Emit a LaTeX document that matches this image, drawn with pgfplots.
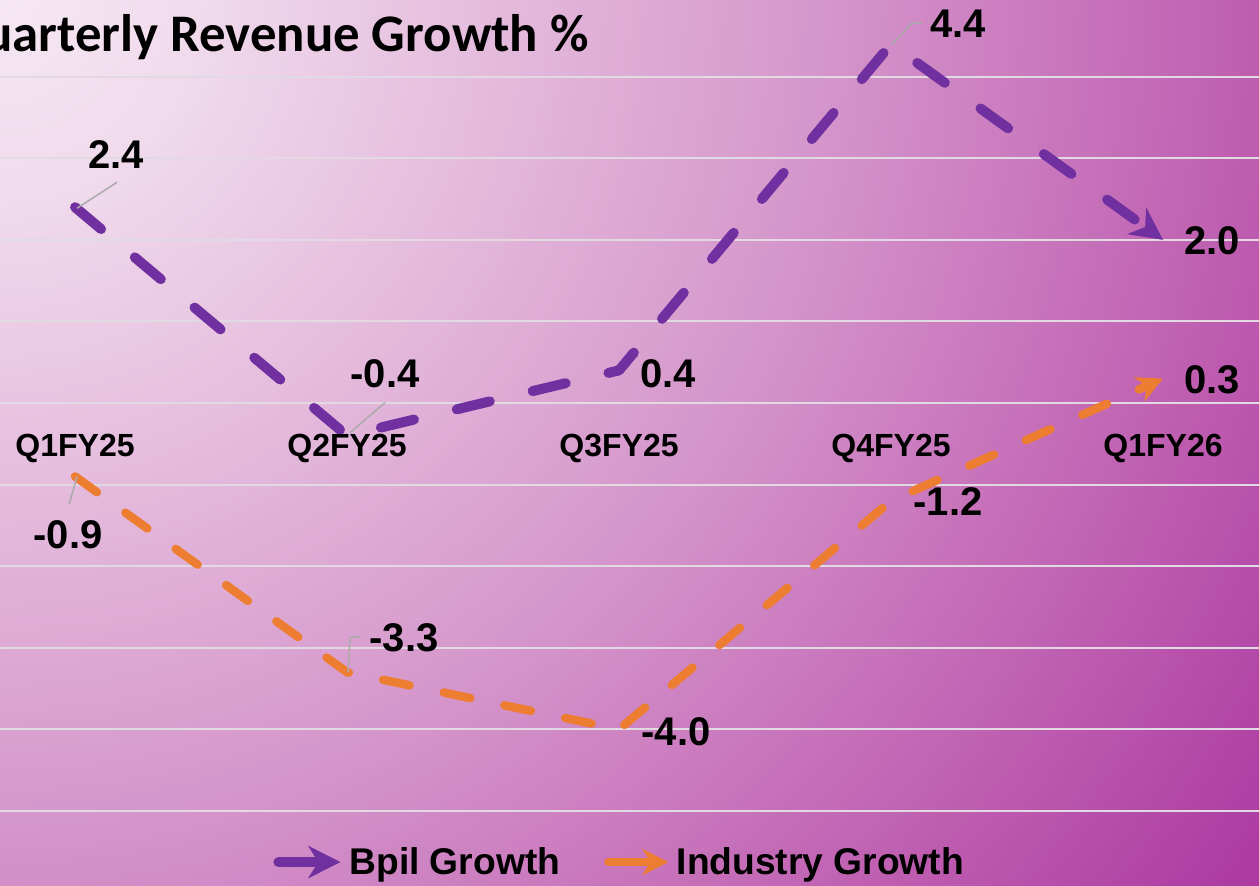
\documentclass[border=0pt]{standalone}
\usepackage{fontspec}
\setmainfont{Liberation Sans}
\newfontfamily\titlefont{Carlito}
\usepackage{pgfplots}
\pgfplotsset{compat=1.18}
\usetikzlibrary{arrows.meta}

\definecolor{bpil}{RGB}{112,48,160}
\definecolor{indus}{RGB}{237,125,49}
\definecolor{gridc}{RGB}{226,218,226}
\definecolor{leadc}{RGB}{170,170,170}
% background colours, from the top left corner outwards
\definecolor{bga}{RGB}{246,232,243}
\definecolor{bgb}{RGB}{240,218,236}
\definecolor{bgc}{RGB}{228,186,220}
\definecolor{bgd}{RGB}{213,150,203}
\definecolor{bge}{RGB}{190,92,176}
\definecolor{bgf}{RGB}{170,55,160}
\pgfdeclareradialshading{bgshade}{\pgfpoint{0bp}{0bp}}{color(0bp)=(bga); color(100bp)=(bgb); color(250bp)=(bgc); color(410bp)=(bgd); color(630bp)=(bge); color(775bp)=(bgf)}

\pgfplotsset{arrowleg/.style={legend image code/.code={\draw[##1, solid] (0pt,0pt) -- (#1,0pt);}}}

\begin{document}
\begin{tikzpicture}[
  lab/.style={font=\fontsize{20}{20}\selectfont\bfseries, inner sep=0pt},
  cat/.style={font=\fontsize{16}{16}\selectfont\bfseries, inner sep=0pt},
  leader/.style={draw=leadc, line width=0.75pt},
]
\useasboundingbox (0,0) rectangle (629.5pt,443pt);
\clip (0,0) rectangle (629.5pt,443pt);
\pgftext[at={\pgfpoint{0pt}{443pt}}]{\pgfuseshading{bgshade}}
\node[anchor=base east, inner sep=0pt, font=\titlefont\bfseries\fontsize{26.4}{27}\selectfont] at (294.5pt,417pt) {Quarterly Revenue Growth \%};

\begin{axis}[
  at={(0,0)}, anchor=south west,
  scale only axis, width=629.5pt, height=443pt,
  xmin=-0.276, xmax=4.353, ymin=-5.92, ymax=4.94,
  axis line style={draw=none},
  xtick=\empty, ytick={-5,...,4}, yticklabel=\empty,
  major tick length=0pt,
  ymajorgrids, grid style={gridc, line width=1pt},
  legend columns=2,
  legend style={at={(rel axis cs:0.493,0.027)}, anchor=center, draw=none, fill=none,
    font=\fontsize{18.6}{19}\selectfont\bfseries,
    nodes={inner xsep=2pt},
    /tikz/every even column/.append style={column sep=20pt}},
]
\addplot[bpil, line width=5pt, line cap=round, line join=round,
  dash pattern=on 17pt off 22pt,
  -{Stealth[length=16pt,width=16pt,inset=5pt]}, arrowleg=31pt]
  coordinates {(0,2.4) (1,-0.4) (2,0.4) (3,4.4) (4,2.0)};
\addplot[indus, line width=4.25pt, line cap=round, line join=round,
  dash pattern=on 13.5pt off 17.5pt,
  -{Stealth[length=13pt,width=13pt,inset=4pt]}, arrowleg=30pt]
  coordinates {(0,-0.9) (1,-3.3) (2,-4.0) (3,-1.2) (4,0.3)};
\legend{Bpil Growth, Industry Growth}

% category names on the zero line
\node[cat, yshift=-22.5pt] at (axis cs:0,0) {Q1FY25};
\node[cat, yshift=-22.5pt] at (axis cs:1,0) {Q2FY25};
\node[cat, yshift=-22.5pt] at (axis cs:2,0) {Q3FY25};
\node[cat, yshift=-22.5pt] at (axis cs:3,0) {Q4FY25};
\node[cat, yshift=-22.5pt] at (axis cs:4,0) {Q1FY26};

% Bpil data labels
\draw[leader] (axis cs:0,2.4) ++(1pt,-0.5pt) -- ++(20pt,13pt);
\node[lab, xshift=20.5pt, yshift=26.5pt] at (axis cs:0,2.4) {2.4};
\draw[leader] (axis cs:1,-0.4) ++(1.5pt,1.5pt) -- ++(17.5pt,15pt);
\node[lab, xshift=19pt, yshift=31pt] at (axis cs:1,-0.4) {-0.4};
\node[lab, xshift=24.5pt, yshift=-1.5pt] at (axis cs:2,0.4) {0.4};
\draw[leader] (axis cs:3,4.4) ++(0.5pt,0pt) -- ++(10pt,10.5pt) -- ++(5pt,0pt);
\node[lab, xshift=33.5pt, yshift=10pt] at (axis cs:3,4.4) {4.4};
\node[lab, xshift=24.5pt, yshift=-0.5pt] at (axis cs:4,2.0) {2.0};

% Industry data labels
\draw[leader] (axis cs:0,-0.9) ++(1pt,0pt) -- ++(-4pt,-14pt);
\node[lab, xshift=-3.5pt, yshift=-29pt] at (axis cs:0,-0.9) {-0.9};
\draw[leader] (axis cs:1,-3.3) ++(0.5pt,0pt) -- ++(1pt,17.5pt) -- ++(5pt,0pt);
\node[lab, xshift=28.5pt, yshift=17pt] at (axis cs:1,-3.3) {-3.3};
\node[lab, xshift=28.5pt, yshift=-1pt] at (axis cs:2,-4.0) {-4.0};
\node[lab, xshift=28.5pt, yshift=-0.5pt] at (axis cs:3,-1.2) {-1.2};
\node[lab, xshift=24.5pt, yshift=-0.5pt] at (axis cs:4,0.3) {0.3};
\end{axis}
\end{tikzpicture}
\end{document}
